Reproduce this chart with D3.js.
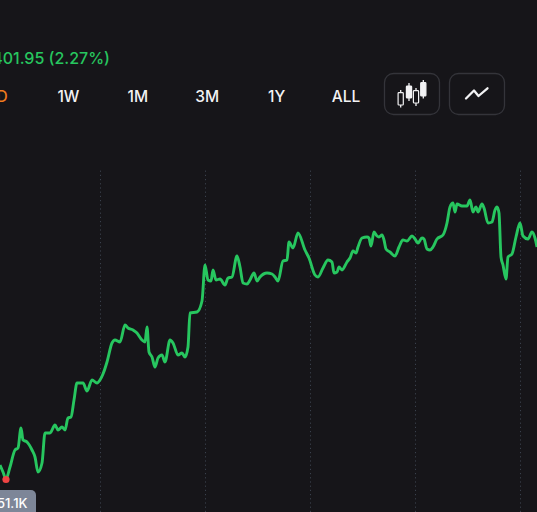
<!DOCTYPE html>
<html>
<head>
<meta charset="utf-8">
<script src="https://cdn.jsdelivr.net/npm/d3@7"></script>
<style>
  html, body { margin: 0; padding: 0; background: #161519; overflow: hidden; }
  #chart { width: 537px; height: 512px; }
</style>
</head>
<body>
<div id="chart"></div>
<script>
// price history (days since window start, price in $K)
const days = [
    0, 1.5, 3, 5, 7.5, 9, 10.5, 11.5, 13.5, 16,
    17.5, 19, 21, 22.5, 25, 27.5, 29, 31, 32.5, 34,
    35.5, 37, 38.5, 41.5, 43.5, 46, 48.5, 50, 51.5, 53.5,
    56, 57.5, 60, 62.5, 64, 66.5, 68.5, 71, 72.5, 73.5,
    74.5, 76, 77.5, 79, 81, 82.5, 85, 86.5, 89, 91,
    92.5, 94, 95, 98.5, 101, 102.5, 104, 105.5, 106.5, 108,
    110, 112.5, 114, 116, 118.5, 120, 121.5, 123.5, 125, 127,
    128.5, 130, 133.5, 136, 137.5, 139, 141.5, 143.5, 144.5, 146.5,
    149, 152.5, 154.5, 157.5, 159, 161.5, 164, 166, 167, 168.5,
    169.5, 171, 173.5, 175, 176.5, 178, 179, 181, 183.5, 184.5,
    185.5, 187, 188.5, 189.5, 191, 192, 193, 195, 197.5, 199.5,
    201.5, 203.5, 206, 207.5, 209, 211, 212, 213.5, 215, 216.5,
    218.5, 221.5, 223.5, 225, 226.5, 227.5, 228.5, 231, 233.5, 235,
    236.5, 238, 239, 241, 242, 244, 246, 247.5, 248.5, 249.5,
    250.5, 251.5, 253, 254, 256, 258, 260, 261.5, 264, 266,
    267.5, 268.5
];
const prices = [
    52.22, 51.66, 51.10, 52.06, 53.42, 53.58, 55.18, 54.22, 54.06, 53.42,
    52.86, 51.66, 52.38, 54.78, 54.78, 55.42, 55.02, 55.26, 55.02, 55.98,
    56.06, 57.42, 58.78, 58.78, 58.14, 59.02, 58.78, 59.02, 59.50, 60.46,
    61.98, 62.22, 62.06, 63.42, 63.18, 63.02, 62.78, 62.22, 62.06, 63.26,
    61.26, 60.86, 60.06, 60.78, 61.02, 60.46, 62.22, 61.98, 61.02, 61.18,
    60.86, 61.66, 64.38, 64.46, 65.34, 68.22, 67.02, 66.94, 67.82, 67.02,
    67.10, 66.62, 67.18, 67.26, 68.94, 68.06, 66.78, 66.70, 67.02, 67.58,
    66.94, 67.26, 67.58, 67.50, 67.26, 66.94, 68.54, 68.62, 70.06, 69.58,
    70.78, 69.42, 68.78, 67.42, 67.26, 67.98, 68.62, 68.46, 67.58, 67.66,
    68.06, 67.82, 68.46, 68.78, 69.34, 69.18, 69.66, 70.38, 70.46, 70.38,
    69.74, 70.86, 70.54, 70.46, 70.62, 70.22, 69.50, 69.26, 68.94, 69.66,
    70.22, 70.14, 70.54, 70.30, 69.98, 70.38, 70.30, 69.50, 69.42, 69.66,
    70.30, 70.62, 71.58, 72.86, 73.18, 72.46, 73.10, 72.94, 72.94, 73.42,
    72.46, 72.86, 72.46, 73.10, 72.78, 71.58, 71.66, 72.62, 72.86, 72.38,
    68.86, 68.22, 67.10, 68.86, 69.10, 70.46, 71.58, 70.54, 70.30, 70.86,
    70.38, 69.66
];
const gridDays = [50, 102.5, 155, 207.5, 260];
const periods = ["1D", "1W", "1M", "3M", "1Y", "ALL"];
const activePeriod = "1D";
const changeText = "+$1,401.95 (2.27%)";

const W = 537, H = 512;
const green = "#27c65f";

const data = days.map((d, i) => ({ day: d, price: prices[i] }));

const svg = d3.select("#chart")
    .append("svg")
    .attr("width", W)
    .attr("height", H)
    .style("display", "block")
    .style("font-family", "Inter, 'Noto Sans', sans-serif");

svg.append("rect").attr("width", W).attr("height", H).attr("fill", "#161519");

const xScale = d3.scaleLinear()
    .domain([0, 268.5])
    .range([0, W]);

const yScale = d3.scaleLinear()
    .domain([51.1, 73.5])
    .range([479, 199]);

// dotted vertical grid
svg.append("g")
    .attr("transform", `translate(0,${H})`)
    .call(d3.axisBottom(xScale).tickValues(gridDays).tickSize(-342).tickFormat(""))
    .call(g => g.select(".domain").remove())
    .call(g => g.selectAll(".tick line")
        .attr("stroke", "#3a404c")
        .attr("stroke-width", 1)
        .attr("stroke-dasharray", "1.2,3"));

// header change text
svg.append("text")
    .attr("x", 110)
    .attr("y", 63.5)
    .attr("text-anchor", "end")
    .attr("fill", green)
    .style("font-size", "16px")
    .style("font-weight", 500)
    .text(changeText);

// period tabs
const tabX = d3.scalePoint().domain(periods).range([-1, 346]);
svg.selectAll(".tab")
    .data(periods)
    .enter()
    .append("text")
    .attr("class", "tab")
    .attr("x", d => tabX(d))
    .attr("y", 101.5)
    .attr("text-anchor", "middle")
    .attr("fill", d => d === activePeriod ? "#f07a1e" : "#f2f2f4")
    .style("font-size", "15.5px")
    .style("font-weight", 500)
    .text(d => d);

// chart-type buttons
[384, 449].forEach(bx => {
    svg.append("rect")
        .attr("x", bx + 0.5).attr("y", 73.5)
        .attr("width", 55).attr("height", 41)
        .attr("rx", 9)
        .attr("fill", "none")
        .attr("stroke", "#34343a")
        .attr("stroke-width", 1.3);
});

const candles = [
    { x: 400.7, top: 92.7, bot: 105, hi: 90, lo: 107.5, fill: false },
    { x: 409, top: 86, bot: 98, hi: 83, lo: 101, fill: true },
    { x: 416, top: 90.7, bot: 103, hi: 88, lo: 106, fill: false },
    { x: 423.3, top: 82.7, bot: 96, hi: 80, lo: 98.5, fill: true }
];
const cg = svg.append("g");
candles.forEach(c => {
    cg.append("line")
        .attr("x1", c.x).attr("x2", c.x)
        .attr("y1", c.hi).attr("y2", c.lo)
        .attr("stroke", "#f2f2f4").attr("stroke-width", 1.3);
    cg.append("rect")
        .attr("x", c.x - 2.6).attr("y", c.top)
        .attr("width", 5.2).attr("height", c.bot - c.top)
        .attr("rx", 0.8)
        .attr("fill", c.fill ? "#f2f2f4" : "#161519")
        .attr("stroke", "#f2f2f4").attr("stroke-width", 1.2);
});

svg.append("polyline")
    .attr("points", "466,98.5 474,90.5 478.5,96 487.5,88.3")
    .attr("fill", "none")
    .attr("stroke", "#f2f2f4")
    .attr("stroke-width", 2.3)
    .attr("stroke-linecap", "round")
    .attr("stroke-linejoin", "round");

// price line
const line = d3.line()
    .x(d => xScale(d.day))
    .y(d => yScale(d.price))
    .curve(d3.curveMonotoneX);

svg.append("path")
    .datum(data)
    .attr("d", line)
    .attr("fill", "none")
    .attr("stroke", green)
    .attr("stroke-width", 2.9)
    .attr("stroke-linejoin", "round");

// lowest point marker + label
const low = data.reduce((a, b) => (b.price < a.price ? b : a));
svg.append("circle")
    .attr("cx", xScale(low.day))
    .attr("cy", yScale(low.price) + 0.5)
    .attr("r", 3.6)
    .attr("fill", "#ef4444");

svg.append("rect")
    .attr("x", -20)
    .attr("y", 490)
    .attr("width", 56)
    .attr("height", 30)
    .attr("rx", 5)
    .attr("fill", "#7d8698");

svg.append("text")
    .attr("x", 27.5)
    .attr("y", 508)
    .attr("text-anchor", "end")
    .attr("fill", "#ffffff")
    .style("font-size", "13px")
    .style("font-weight", 500)
    .text("$" + d3.format(".1f")(low.price) + "K");
</script>
</body>
</html>
